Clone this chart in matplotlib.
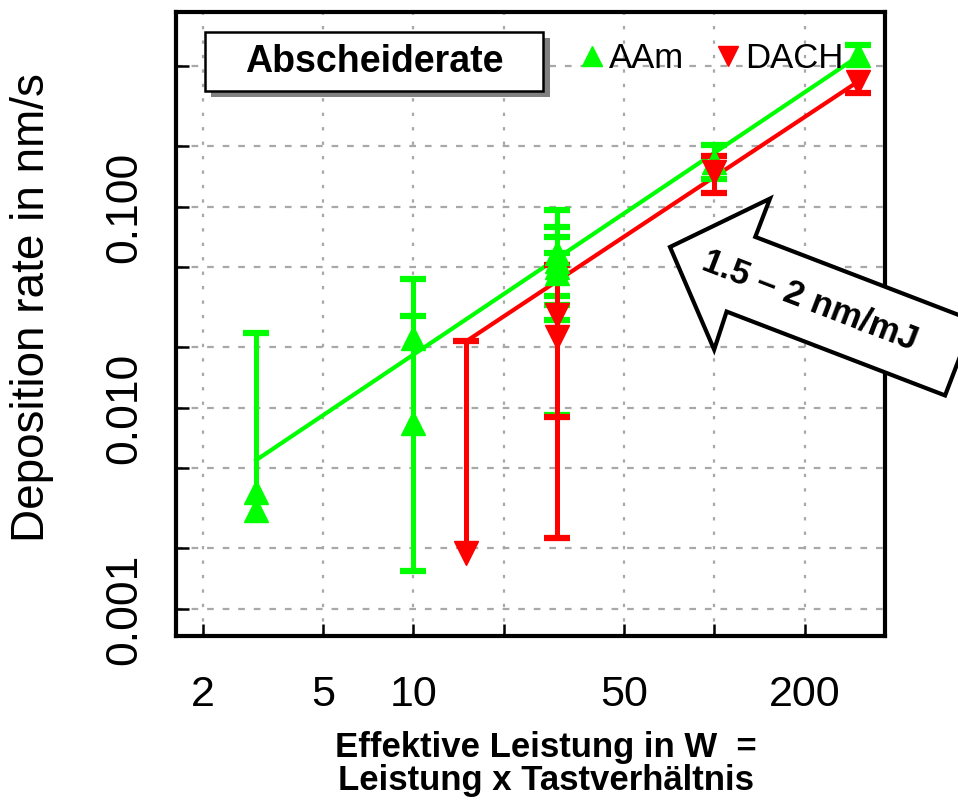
import numpy as np
import matplotlib
matplotlib.use("Agg")
import matplotlib.pyplot as plt
from matplotlib.lines import Line2D
from matplotlib.patches import Rectangle, Polygon
from matplotlib.transforms import Affine2D

plt.rcParams['font.family'] = ['Liberation Sans', 'DejaVu Sans']

# AAm (green, triangle up): value, lower and upper end of the error bar
aam_x = np.array([3, 3, 10, 10, 30, 30, 30, 30, 100, 300])
aam_y = np.array([0.0038, 0.0031, 0.0223, 0.0084, 0.059, 0.054, 0.050, 0.047, 0.167, 0.57])
aam_lo = np.array([0.0038, 0.0031, 0.0223, 0.00155, 0.036, 0.0325, 0.0274, 0.0092, 0.138, 0.57])
aam_hi = np.array([0.0236, 0.0031, 0.0287, 0.0438, 0.097, 0.0795, 0.0709, 0.059, 0.203, 0.64])

# DACH (red, triangle down)
dach_x = np.array([15, 30, 30, 100, 300])
dach_y = np.array([0.0019, 0.029, 0.0226, 0.149, 0.42])
dach_lo = np.array([0.0019, 0.0090, 0.00226, 0.118, 0.37])
dach_hi = np.array([0.0215, 0.0515, 0.0226, 0.179, 0.42])

# fitted lines
fit_aam_x = [3, 300]
fit_aam_y = [0.0055, 0.56]
fit_dach_x = [15, 300]
fit_dach_y = [0.0215, 0.42]

xticks = [2, 5, 10, 20, 50, 100, 200]
xticklabels = ['2', '5', '10', '', '50', '', '200']
yticks = [0.001, 0.002, 0.005, 0.01, 0.02, 0.05, 0.1, 0.2, 0.5]
yticklabels = ['0.001', '', '', '0.010', '', '', '0.100', '', '']

GREEN = '#00ff00'
RED = '#ff0000'

fig = plt.figure(figsize=(9.58, 8.0), dpi=100)
ax = fig.add_axes([0.1837, 0.205, 0.7401, 0.780])
ax.set_xscale('log')
ax.set_yscale('log')
ax.set_xlim(1.626, 369)
ax.set_ylim(7.34e-4, 0.933)


def draw_series(x, y, lo, hi, color, marker):
    has_bar = (lo < y) | (hi > y)
    ax.vlines(x[has_bar], lo[has_bar], hi[has_bar], color=color, lw=3.6, zorder=3)
    ax.plot(x[hi > y], hi[hi > y], ls='none', marker='_', ms=19, mew=4.5,
            color=color, zorder=3)
    ax.plot(x[lo < y], lo[lo < y], ls='none', marker='_', ms=19, mew=4.5,
            color=color, zorder=3)
    ax.plot(x, y, ls='none', marker=marker, ms=17, color=color, zorder=4)


ax.plot(fit_aam_x, fit_aam_y, color=GREEN, lw=3, zorder=2)
ax.plot(fit_dach_x, fit_dach_y, color=RED, lw=3, zorder=2)
draw_series(aam_x, aam_y, aam_lo, aam_hi, GREEN, '^')
draw_series(dach_x, dach_y, dach_lo, dach_hi, RED, 'v')

# axes, ticks and grid
ax.xaxis.set_minor_locator(matplotlib.ticker.NullLocator())
ax.yaxis.set_minor_locator(matplotlib.ticker.NullLocator())
ax.set_xticks(xticks)
ax.set_xticklabels(xticklabels)
ax.set_yticks(yticks)
ax.set_yticklabels(yticklabels, rotation=90, va='center')
ax.tick_params(axis='x', direction='in', length=9, width=1.8, labelsize=31, pad=28)
ax.tick_params(axis='y', direction='in', length=9, width=1.8, labelsize=32, pad=22)
ax.xaxis.grid(True, color='#a8a8a8', lw=1.6, ls=(0, (1.5, 5)))
ax.yaxis.grid(True, color='#a8a8a8', lw=1.6, ls=(0, (3, 4)))
ax.set_axisbelow(True)
for s in ax.spines.values():
    s.set_linewidth(3)

fig.text(0.033, 0.616, 'Deposition rate in nm/s', rotation=90, fontsize=33,
         ha='center', va='center')
fig.text(0.570, 0.066, 'Effektive Leistung in W  =', fontsize=25, fontweight='bold',
         ha='center', va='center')
fig.text(0.570, 0.024, 'Leistung x Tastverhältnis', fontsize=25, fontweight='bold',
         ha='center', va='center')

# title box with drop shadow
ax.add_patch(Rectangle((0.050, 0.863), 0.477, 0.095, transform=ax.transAxes,
                       facecolor='#808080', edgecolor='none', zorder=5))
ax.add_patch(Rectangle((0.041, 0.873), 0.477, 0.095, transform=ax.transAxes,
                       facecolor='white', edgecolor='black', lw=1.8, zorder=6))
ax.text(0.2795, 0.920, 'Abscheiderate', transform=ax.transAxes, fontsize=27,
        fontweight='bold', ha='center', va='center', zorder=7)

handles = [Line2D([], [], ls='none', marker='^', ms=15, color=GREEN, label='AAm'),
           Line2D([], [], ls='none', marker='v', ms=15, color=RED, label='DACH')]
ax.legend(handles=handles, ncol=2, frameon=False, fontsize=25, loc='center left',
          bbox_to_anchor=(0.567, 0.925), borderpad=0, borderaxespad=0,
          handlelength=0.8, handletextpad=0.1, columnspacing=0.85)

# slope arrow, built along its own axis then rotated into place
arrow_pts = np.array([[0, 0], [76, 81], [76, 40], [310, 40], [310, -40],
                      [76, -40], [78, -80]])
arrow_tf = (Affine2D().rotate_deg(-21).translate(670, 553).scale(1 / 958, 1 / 800)
            + fig.transFigure)
fig.patches.append(Polygon(arrow_pts, closed=True, facecolor='white',
                           edgecolor='black', lw=3, transform=arrow_tf, zorder=10))
tx, ty = Affine2D().rotate_deg(-21).translate(670, 553).transform([150, 0])
fig.text(tx / 958, ty / 800, '1.5 – 2 nm/mJ', rotation=-21, fontsize=25,
         fontweight='bold', ha='center', va='center', rotation_mode='anchor', zorder=11)

fig.savefig('out.png', dpi=100, facecolor='white')
